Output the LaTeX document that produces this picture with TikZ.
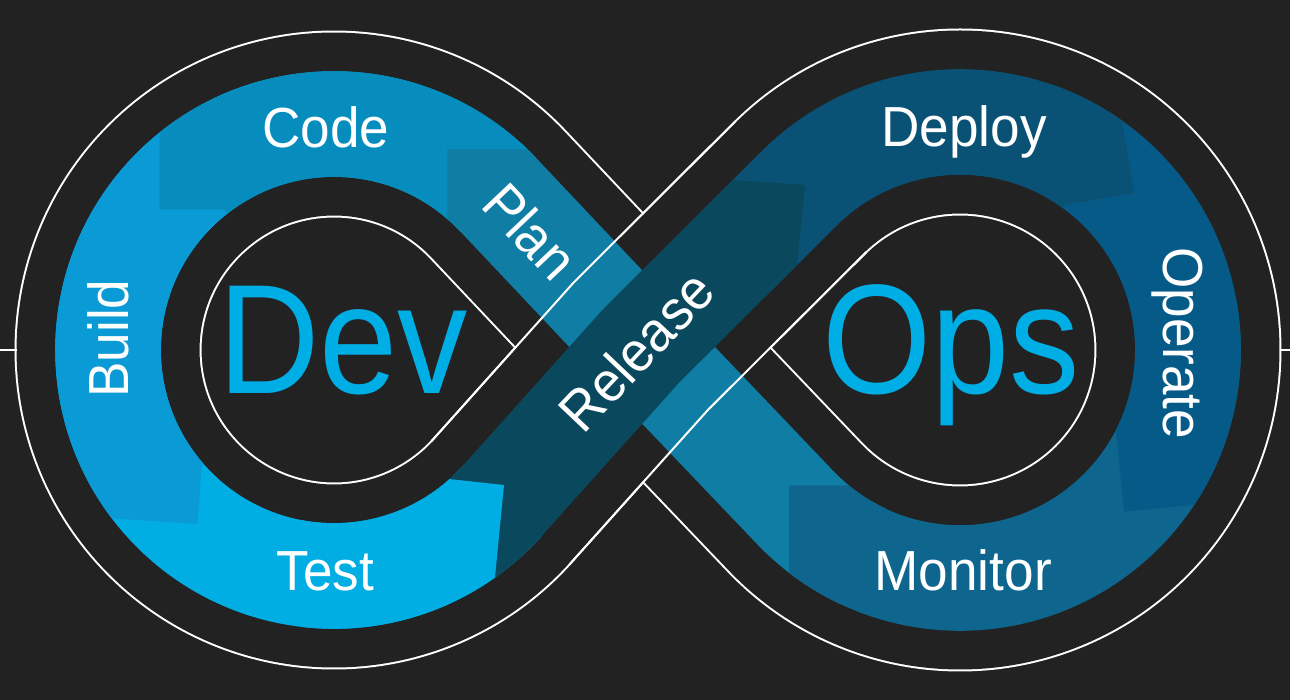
\documentclass[tikz,border=0pt]{standalone}
\usepackage{fontspec}
\setmainfont{Liberation Sans}
\newfontfamily\labfont{Liberation Sans}[FakeStretch=0.94]
\newfontfamily\bigfont{Liberation Sans}[FakeStretch=0.90]
\definecolor{bgc}{HTML}{222222}
\definecolor{cCode}{HTML}{068CBD}
\definecolor{cBuild}{HTML}{0A9AD5}
\definecolor{cTest}{HTML}{01AEE4}
\definecolor{cPlan}{HTML}{0F7DA4}
\definecolor{cRel}{HTML}{0A485E}
\definecolor{cDep}{HTML}{0A5275}
\definecolor{cOpe}{HTML}{065A87}
\definecolor{cMon}{HTML}{0E668F}
\definecolor{cBig}{HTML}{00AEE6}
\begin{document}
\begin{tikzpicture}[x=1pt,y=1pt,
  band/.style={line width=105.6pt},
  lab/.style={text=white,font=\labfont\fontsize{56.5pt}{60pt}\selectfont,inner sep=0pt,text height=40.45pt,text depth=0pt,anchor=center},
  big/.style={text=cBig,font=\bigfont\fontsize{156pt}{160pt}\selectfont,inner sep=0pt,text height=111.7pt,text depth=0pt,anchor=center},
  wline/.style={white,line width=2pt}]
\useasboundingbox (0,0) rectangle (1290,700);
\fill[bgc] (0,0) rectangle (1290,700);
% key points
\coordinate (CL) at (334,350);
\coordinate (CR) at (960,350);
\coordinate (P) at (641,354);
\coordinate (TLup) at (498.36,505.12);
\coordinate (TLdn) at (502.32,199.22);
\coordinate (TRup) at (799.06,511.50);
\coordinate (TRdn) at (795.07,192.58);
\coordinate (PlanS) at (256.70,562.37);
\coordinate (MonS) at (726.03,264.92);
\coordinate (DepS) at (728.23,440.92);
\coordinate (RelS) at (429.51,145.17);
\coordinate (TestS) at (188.73,176.87);
\coordinate (TestE) at (542.36,243.91);
\coordinate (WA1) at (431.43,258.72);
\coordinate (WAm) at (573.85,417.68);
\coordinate (WA2) at (735.90,579.14);
\coordinate (WB1) at (569.21,135.26);
\coordinate (WBm) at (708.15,290.32);
\coordinate (WB2) at (866.48,448.10);
\coordinate (LtA) at (0,350);
\coordinate (LtB) at (16.5,350);
\coordinate (RtA) at (1279.5,350);
\coordinate (RtB) at (1290,350);
\def\LOOP{(TLdn) -- (P) -- (TRup) arc[start angle=134.9,end angle=-136.34,radius=228] -- (P) -- (TLup) arc[start angle=43.35,end angle=318.15,radius=226] -- cycle}
\def\AL{(TLup) arc[start angle=43.35,end angle=318.15,radius=226]}
\def\AR{(TRup) arc[start angle=134.9,end angle=-136.34,radius=228]}
% outline of the whole loop (white lines with dark gap)
\draw[white,line width=187pt,line join=round] \LOOP;
\draw[bgc,line width=183pt,line join=round] \LOOP;
% left lobe
\draw[band,cTest] \AL;
\begin{scope}
\clip (0,710)--(260,710)--(260,300)--(201.6,233.3)--(197.5,176)--(0,189)--cycle;
\draw[band,cBuild] \AL;
\end{scope}
\begin{scope}
\clip (159.6,710)--(640,710)--(640,400)--(300,400)--(224,490.7)--(159.6,490.7)--cycle;
\draw[band,cCode] \AL;
\end{scope}
% Plan strand
\begin{scope}
\clip (447.3,550)--(1300,550)--(1300,-10)--(447.3,-10)--cycle;
\draw[band,cPlan] (PlanS) arc[start angle=110,end angle=43.35,radius=226] -- (P) -- (TRdn) arc[start angle=-136.34,end angle=-115,radius=228];
\end{scope}
% right lobe
\begin{scope}
\clip (789,214.5)--(1000,214.5)--(1000,400)--(1300,400)--(1300,-10)--(789,-10)--cycle;
\draw[band,cMon] (MonS) -- (TRdn) arc[start angle=-136.34,end angle=134.9,radius=228];
\end{scope}
\begin{scope}
\clip (1050,710)--(1300,710)--(1300,205.7)--(1124.2,188.3)--(1116,266.7)--(1050,280)--cycle;
\draw[band,cOpe] \AR;
\end{scope}
\begin{scope}
\clip (700,710)--(1099.8,710)--(1134.5,506.7)--(1064.6,495)--(950,300)--(700,300)--cycle;
\draw[band,cDep] (DepS) -- (TRup) arc[start angle=134.9,end angle=-136.34,radius=228];
\end{scope}
% white lines of the Release strand (over the Plan strand)
\draw[wline] (WA1) -- (WAm) -- (WA2);
\draw[wline] (WB1) -- (WBm) -- (WB2);
% Release strand
\begin{scope}
\clip (400,543.2)--(805.4,515)--(797.2,436.7)--(751.5,0)--(400,0)--cycle;
\draw[band,cRel] (RelS) arc[start angle=-65,end angle=-41.85,radius=226] -- (P) -- (TRup) arc[start angle=134.9,end angle=110,radius=228];
\end{scope}
\begin{scope}
\clip (300,237.1)--(504,215)--(483,0)--(300,0)--cycle;
\draw[band,cTest] (TestS) arc[start angle=230,end angle=318.15,radius=226] -- (TestE);
\end{scope}
% edge ticks
\draw[wline] (LtA) -- (LtB);
\draw[wline] (RtA) -- (RtB);
% labels
\node[lab] (code) at (325.8,572.5) {Code};
\node[lab] (deploy) at (964,573.3) {Deploy};
\node[lab] (test) at (325.3,130) {Test};
\node[lab] (monitor) at (963.2,130) {Monitor};
\node[lab,rotate=90] (build) at (108.5,361.5) {Build};
\node[lab,rotate=-90] (operate) at (1183.3,356.7) {Operate};
\node[lab,rotate=-46.6] (plan) at (530.5,469) {Plan};
\node[lab,rotate=46.5] (release) at (636,349) {Release};
\node[big] (dev) at (343.3,362.5) {Dev};
\node[big] (ops) at (951.2,362.7) {Ops};
\end{tikzpicture}
\end{document}
